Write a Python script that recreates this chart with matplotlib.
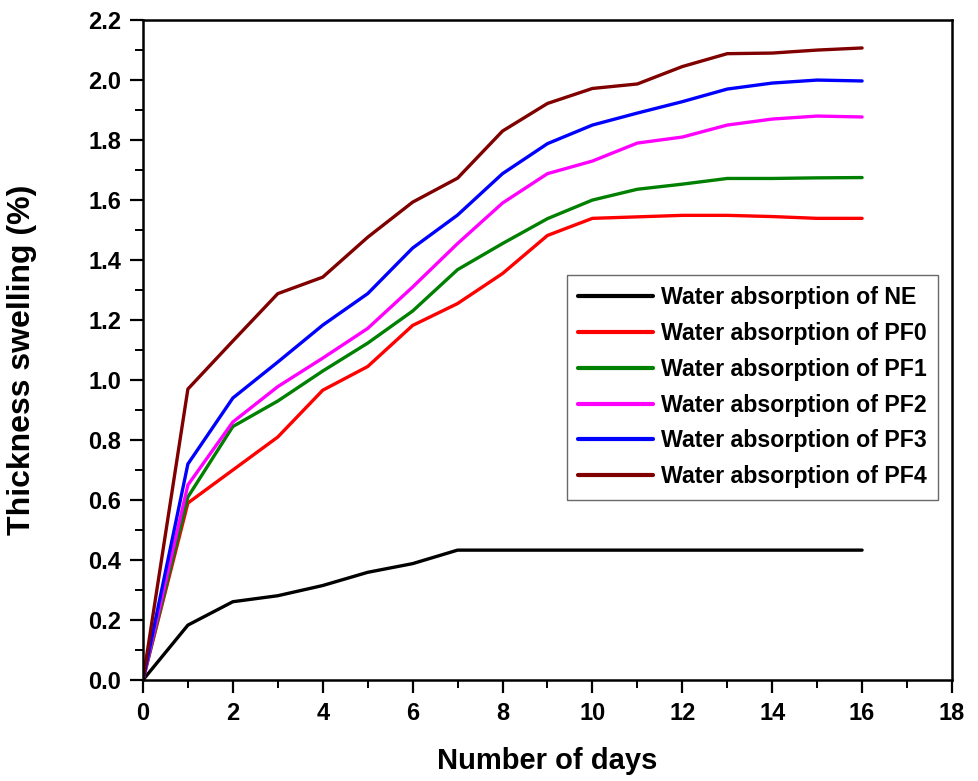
import numpy as np
import matplotlib
matplotlib.use("Agg")
import matplotlib.pyplot as plt
from matplotlib.ticker import MultipleLocator, FormatStrFormatter

plt.rcParams['font.family'] = ['Liberation Sans', 'DejaVu Sans']
plt.rcParams['font.weight'] = 'bold'

days = list(range(0, 17))

ne = [0, 0.183, 0.261, 0.281, 0.315, 0.359, 0.388, 0.433, 0.433, 0.433,
      0.433, 0.433, 0.433, 0.433, 0.433, 0.433, 0.433]
pf0 = [0, 0.59, 0.70, 0.81, 0.966, 1.045, 1.182, 1.255, 1.355, 1.482,
       1.539, 1.544, 1.549, 1.549, 1.545, 1.539, 1.539]
pf1 = [0, 0.61, 0.845, 0.93, 1.03, 1.123, 1.23, 1.368, 1.455, 1.538,
       1.60, 1.636, 1.653, 1.672, 1.672, 1.674, 1.675]
pf2 = [0, 0.65, 0.86, 0.978, 1.073, 1.172, 1.31, 1.455, 1.59, 1.688,
       1.73, 1.79, 1.81, 1.85, 1.87, 1.88, 1.877]
pf3 = [0, 0.72, 0.94, 1.06, 1.183, 1.288, 1.44, 1.55, 1.688, 1.788,
       1.85, 1.89, 1.928, 1.97, 1.99, 2.0, 1.997]
pf4 = [0, 0.97, 1.13, 1.288, 1.343, 1.476, 1.593, 1.673, 1.83, 1.922,
       1.972, 1.987, 2.045, 2.088, 2.09, 2.10, 2.107]

series = [ne, pf0, pf1, pf2, pf3, pf4]
labels = ['Water absorption of NE', 'Water absorption of PF0',
          'Water absorption of PF1', 'Water absorption of PF2',
          'Water absorption of PF3', 'Water absorption of PF4']
colors = ['#000000', '#ff0000', '#008000', '#ff00ff', '#0000ff', '#800000']

fig = plt.figure(figsize=(9.79, 7.81), dpi=100)
ax = fig.add_axes([0.146, 0.1293, 0.8264, 0.845])

for y, lab, c in zip(series, labels, colors):
    ax.plot(days, y, color=c, lw=2.4, label=lab, solid_capstyle='round')

ax.set_xlim(0, 18)
ax.set_ylim(0, 2.2)
ax.xaxis.set_major_locator(MultipleLocator(2))
ax.xaxis.set_minor_locator(MultipleLocator(1))
ax.yaxis.set_major_locator(MultipleLocator(0.2))
ax.yaxis.set_minor_locator(MultipleLocator(0.1))
ax.yaxis.set_major_formatter(FormatStrFormatter('%.1f'))
ax.tick_params(which='major', direction='out', length=9.5, width=1.6,
               labelsize=17, pad=6, top=False, right=False)
ax.tick_params(which='minor', direction='out', length=5.5, width=1.4,
               top=False, right=False)
for s in ax.spines.values():
    s.set_linewidth(1.8)

ax.set_xlabel('Number of days', fontsize=21, fontweight='bold', labelpad=16)
ax.set_ylabel('Thickness swelling (%)', fontsize=23, fontweight='bold')
ax.yaxis.set_label_coords(-0.131, 0.485)

leg = ax.legend(loc='upper left', bbox_to_anchor=(0.524, 0.614),
                borderaxespad=0, fancybox=False, edgecolor='#444444',
                fontsize=16.7, handlelength=3.2, handletextpad=0.35,
                labelspacing=0.55, borderpad=0.5)
leg.get_frame().set_linewidth(1.0)
for t in leg.get_texts():
    t.set_fontweight('bold')
for h in leg.get_lines():
    h.set_linewidth(3.0)

fig.savefig('out.png', dpi=100)
